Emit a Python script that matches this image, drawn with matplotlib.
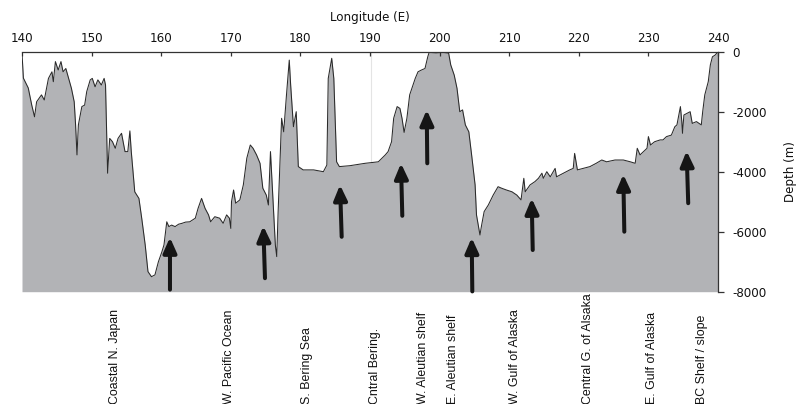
import numpy as np
import matplotlib
matplotlib.use("Agg")
import matplotlib.pyplot as plt
from matplotlib.patches import ArrowStyle
import matplotlib.transforms as mtransforms

plt.rcParams["font.family"] = ["Liberation Sans", "DejaVu Sans"]
plt.rcParams["axes.unicode_minus"] = False

# Bathymetric profile along the section (longitude east, depth in metres)
profile_lon = [
    140.0, 140.2, 140.9, 141.4, 141.8, 142.1, 142.8, 143.2, 143.8, 144.3,
    144.5, 144.8, 145.2, 145.6, 145.9, 146.3, 146.7, 147.1, 147.5, 147.7,
    147.9, 148.1, 148.6, 149.0, 149.3, 149.8, 150.1, 150.5, 150.9, 151.4,
    151.8, 152.0, 152.2, 152.3, 152.6, 153.0, 153.4, 153.8, 154.3, 154.8,
    155.2, 155.5, 155.7, 156.2, 156.8, 157.2, 157.7, 158.1, 158.6, 159.1,
    159.6, 160.1, 160.4, 160.8, 161.1, 161.5, 162.0, 162.5, 163.0, 163.5,
    164.1, 164.9, 165.3, 165.8, 166.3, 166.8, 167.1, 167.7, 168.4, 168.9,
    169.4, 169.8, 170.0, 170.1, 170.4, 170.7, 171.3, 171.8, 172.3, 172.8,
    173.2, 173.7, 174.2, 174.6, 175.1, 175.4, 175.7, 176.0, 176.4, 176.6,
    176.8, 177.3, 177.6, 178.0, 178.4, 178.6, 179.0, 179.4, 179.7, 180.4,
    181.9, 183.3, 183.8, 184.0, 184.5, 184.8, 185.2, 185.6, 187.1, 189.3,
    191.2, 192.2, 192.6, 193.1, 193.4, 193.9, 194.3, 194.6, 194.9, 195.3,
    195.7, 196.5, 196.9, 197.4, 197.9, 198.3, 198.5, 199.5, 200.5, 201.3,
    201.6, 202.1, 202.5, 202.9, 203.3, 203.7, 204.2, 204.6, 205.1, 205.3,
    205.8, 206.0, 206.4, 207.0, 207.7, 208.4, 208.9, 209.6, 210.4, 211.1,
    211.7, 212.1, 212.3, 213.0, 213.7, 214.2, 214.7, 214.9, 215.4, 215.9,
    216.6, 216.8, 217.8, 218.7, 219.2, 219.4, 219.8, 220.6, 221.6, 222.5,
    223.3, 224.0, 225.2, 226.4, 227.4, 228.1, 228.4, 228.8, 229.3, 229.8,
    230.0, 230.3, 230.9, 231.7, 232.1, 232.6, 233.3, 233.8, 234.1, 234.6,
    234.8, 234.9, 235.1, 235.5, 236.0, 236.3, 236.9, 237.6, 237.8, 238.1,
    238.6, 238.9, 239.2, 239.6, 240.0,
]
profile_depth = [
    -50, -880, -1210, -1780, -2170, -1670, -1440, -1610, -890, -670,
    -1000, -330, -610, -330, -670, -560, -890, -1220, -1670, -2440,
    -3440, -2440, -1830, -1780, -1330, -940, -890, -1170, -940, -1110,
    -890, -1110, -3110, -4050, -2890, -3000, -3220, -2890, -2720, -3330,
    -3330, -2640, -3330, -4670, -4890, -5550, -6440, -7330, -7500, -7440,
    -7000, -6670, -6440, -5670, -5830, -5780, -5830, -5750, -5720, -5680,
    -5670, -5550, -5220, -4890, -5220, -5440, -5670, -5500, -5550, -5720,
    -5440, -5550, -5890, -5000, -4610, -5050, -4940, -4440, -3550, -3110,
    -3220, -3440, -3720, -4550, -4780, -5110, -3330, -4670, -6440, -6830,
    -5330, -2220, -2670, -1440, -280, -1110, -2500, -2000, -3830, -3940,
    -3940, -4000, -3780, -890, -220, -890, -3670, -3830, -3800, -3720,
    -3670, -3440, -3330, -3000, -2220, -1830, -1890, -2220, -2690, -2220,
    -1440, -890, -670, -610, -560, -170, -20, -40, -20, -50,
    -440, -780, -1220, -2000, -1940, -2440, -2670, -3440, -4440, -5440,
    -6110, -5830, -5330, -5110, -4780, -4500, -4550, -4610, -4670, -4780,
    -4940, -4220, -4670, -4440, -4330, -4220, -4050, -4220, -4000, -4170,
    -3890, -4170, -4050, -3940, -3890, -3390, -3940, -3890, -3830, -3720,
    -3610, -3670, -3610, -3610, -3670, -3720, -3220, -3440, -3330, -3220,
    -2830, -3110, -3000, -2940, -2940, -2830, -2780, -2500, -2440, -1830,
    -2330, -2720, -2110, -2060, -2000, -2390, -2330, -2440, -2000, -1440,
    -1000, -440, -170, -110, 0,
]

# Sampling stations marked with arrows (tail -> tip)
arrow_tail_lon = [161.26, 174.91, 185.93, 194.64, 198.23, 204.70, 213.38, 226.54, 235.72]
arrow_tip_lon = [161.26, 174.67, 185.69, 194.45, 198.15, 204.61, 213.23, 226.39, 235.49]
arrow_tail_depth = [-7930, -7550, -6170, -5470, -3720, -7990, -6610, -6000, -5050]
arrow_tip_depth = [-6190, -5810, -4440, -3720, -1940, -6200, -4890, -4090, -3310]

# Region names written beneath the profile
region_lon = [153.36, 169.74, 180.95, 190.72, 197.61, 201.93, 210.83, 221.32, 230.52, 237.70]
region_names = [
    "Coastal N. Japan", "W. Pacific Ocean", "S. Bering Sea", "Cntral Bering.",
    "W. Aleutian shelf", "E. Aleutian shelf", "W. Gulf of Alaska",
    "Central G. of Alsaka", "E. Gulf of Alaska", "BC Shelf / slope",
]

lon_ticks = [140, 150, 160, 170, 180, 190, 200, 210, 220, 230, 240]
depth_ticks = [0, -2000, -4000, -6000, -8000]
depth_tick_labels = ["0", "-2000", "-4000", "-6000", "-8000"]

axis_font = dict(family=["DejaVu Sans"], size=8.6)

fig = plt.figure(figsize=(7.98, 4.04), dpi=100)
ax = fig.add_axes([22 / 798, 1 - 291.7 / 404, (718 - 22) / 798, 240 / 404])

ax.fill_between(profile_lon, profile_depth, -8000, color="#b2b3b6", lw=0)
ax.plot(profile_lon, profile_depth, color="#2a2a2a", lw=0.75)

# faint meridian trace at 190E
x_mer = 190.2
ax.vlines(x_mer, np.interp(x_mer, profile_lon, profile_depth), 0,
          color="#e4e4e4", lw=0.8, zorder=0.5)

style = ArrowStyle("-|>", head_length=0.45, head_width=0.2)
for xt, yt, xh, yh in zip(arrow_tail_lon, arrow_tail_depth, arrow_tip_lon, arrow_tip_depth):
    ax.annotate("", xy=(xh, yh), xytext=(xt, yt),
                arrowprops=dict(arrowstyle=style, color="#151515", lw=2.9,
                                mutation_scale=20, shrinkA=0, shrinkB=0))

ax.set_xlim(140, 240)
ax.set_ylim(-8000, 0)

for side in ("left", "bottom"):
    ax.spines[side].set_visible(False)
for side in ("top", "right"):
    ax.spines[side].set_color("#333333")
    ax.spines[side].set_linewidth(0.9)

ax.xaxis.tick_top()
ax.xaxis.set_label_position("top")
ax.set_xticks(lon_ticks)
ax.set_xticklabels([str(v) for v in lon_ticks], fontdict=axis_font)
ax.tick_params(axis="x", direction="in", length=3, width=0.9, color="#333333",
               pad=5, labelcolor="#111111")
ax.set_xlabel("Longitude (E)", fontdict=axis_font, labelpad=8, color="#111111")

ax.yaxis.tick_right()
ax.yaxis.set_label_position("right")
ax.set_yticks(depth_ticks)
ax.set_yticklabels(depth_tick_labels, fontdict=axis_font)
ax.tick_params(axis="y", direction="out", length=4, width=0.9, color="#333333",
               pad=6, labelcolor="#111111")
ax.set_ylabel("Depth (m)", fontdict=axis_font, labelpad=13, color="#111111", rotation=90)

trans = mtransforms.blended_transform_factory(ax.transData, ax.transAxes)
for x, name in zip(region_lon, region_names):
    ax.text(x, -0.466, name, transform=trans, rotation=90, ha="center", va="bottom",
            fontsize=8.9, color="#111111")

fig.savefig("out.png", dpi=100)
